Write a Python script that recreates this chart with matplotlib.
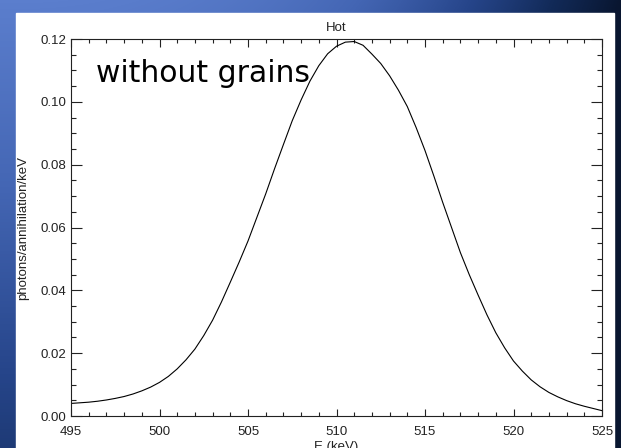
import numpy as np
import matplotlib
matplotlib.use("Agg")
import matplotlib.pyplot as plt
from matplotlib.colors import LinearSegmentedColormap
from matplotlib.ticker import MultipleLocator

# Spectrum of the 511 keV annihilation line (hot phase, no grains), 0.5 keV steps
energy_kev = [495.0, 495.5, 496.0, 496.5, 497.0, 497.5, 498.0, 498.5, 499.0,
              499.5, 500.0, 500.5, 501.0, 501.5, 502.0, 502.5, 503.0, 503.5,
              504.0, 504.5, 505.0, 505.5, 506.0, 506.5, 507.0, 507.5, 508.0,
              508.5, 509.0, 509.5, 510.0, 510.5, 511.0, 511.5, 512.0, 512.5,
              513.0, 513.5, 514.0, 514.5, 515.0, 515.5, 516.0, 516.5, 517.0,
              517.5, 518.0, 518.5, 519.0, 519.5, 520.0, 520.5, 521.0, 521.5,
              522.0, 522.5, 523.0, 523.5, 524.0, 524.5, 525.0]
photons = [0.0040, 0.0042, 0.0044, 0.0047, 0.0051, 0.0056, 0.0062, 0.0070, 0.0080,
           0.0092, 0.0107, 0.0126, 0.0150, 0.0179, 0.0213, 0.0256, 0.0305, 0.0363,
           0.0426, 0.0490, 0.0557, 0.0632, 0.0707, 0.0787, 0.0864, 0.0940, 0.1006,
           0.1066, 0.1115, 0.1153, 0.1177, 0.1190, 0.1192, 0.1180, 0.1152, 0.1122,
           0.1083, 0.1037, 0.0985, 0.0918, 0.0845, 0.0764, 0.0680, 0.0600, 0.0520,
           0.0450, 0.0385, 0.0322, 0.0265, 0.0217, 0.0175, 0.0143, 0.0115, 0.0093,
           0.0075, 0.0061, 0.0049, 0.0039, 0.0031, 0.0024, 0.0017]

title = "Hot"
x_label = "E (keV)"
y_label = "photons/annihilation/keV"
annotation = "without grains"
x_ticks = [495, 500, 505, 510, 515, 520, 525]
y_ticks = [0.00, 0.02, 0.04, 0.06, 0.08, 0.10, 0.12]

W, H = 621, 448
fig = plt.figure(figsize=(W / 100, H / 100), dpi=100)

# slide background: blue gradient, lighter at the upper left
bg = fig.add_axes([0, 0, 1, 1])
bg.set_axis_off()
yy, xx = np.mgrid[0:H, 0:W]
t = np.clip((xx / W) ** 2.5 + 0.6 * (yy / H), 0, 1)
cmap = LinearSegmentedColormap.from_list(
    "slide", ["#5b7ecd", "#4466b4", "#26458a", "#122a58", "#091630"])
bg.imshow(t, cmap=cmap, aspect="auto", extent=[0, W, H, 0], interpolation="bilinear")
bg.add_patch(plt.Rectangle((16, 13), 614 - 16, H - 13, color="white", zorder=2))
bg.set_xlim(0, W)
bg.set_ylim(H, 0)

ink = "#222222"
font = ["Liberation Sans", "DejaVu Sans"]

left, right, top, bottom = 71, 602, 39, 416
ax = fig.add_axes([left / W, 1 - bottom / H, (right - left) / W, (bottom - top) / H])
ax.set_facecolor("white")
ax.plot(energy_kev, photons, color="black", lw=0.8)

ax.set_xlim(495, 525)
ax.set_ylim(0, 0.12)
ax.set_xticks(x_ticks)
ax.set_yticks(y_ticks)
ax.set_xticklabels([str(v) for v in x_ticks], family=font, fontsize=9.5, color=ink)
ax.set_yticklabels([f"{v:.2f}" for v in y_ticks], family=font, fontsize=9.5, color=ink)
ax.xaxis.set_minor_locator(MultipleLocator(1))
ax.yaxis.set_minor_locator(MultipleLocator(0.005))

ax.tick_params(axis="x", which="major", direction="in", top=True, bottom=True,
               length=5.4, width=0.8, color=ink, pad=7.5)
ax.tick_params(axis="x", which="minor", direction="in", top=True, bottom=True,
               length=2.7, width=0.8, color=ink)
ax.tick_params(axis="y", which="major", direction="in", left=True, right=True,
               length=7.6, width=0.8, color=ink, pad=3.5)
ax.tick_params(axis="y", which="minor", direction="in", left=True, right=True,
               length=3.8, width=0.8, color=ink)
for s in ax.spines.values():
    s.set_color(ink)
    s.set_linewidth(0.8)

ax.set_title(title, family=font, fontsize=9.5, color=ink, pad=6)
ax.set_xlabel(x_label, family=font, fontsize=9.5, color=ink)
ax.xaxis.set_label_coords(0.5, (bottom - 441) / (bottom - top))
ax.set_ylabel(y_label, family=font, fontsize=9.5, color=ink)
ax.yaxis.set_label_coords((29 - left) / (right - left), 0.5)

ax.text((96 - left) / (right - left), (bottom - 82) / (bottom - top), annotation,
        transform=ax.transAxes, fontsize=21.5, color="black", va="baseline",
        ha="left", family="DejaVu Sans")

fig.savefig("out.png", dpi=100)
